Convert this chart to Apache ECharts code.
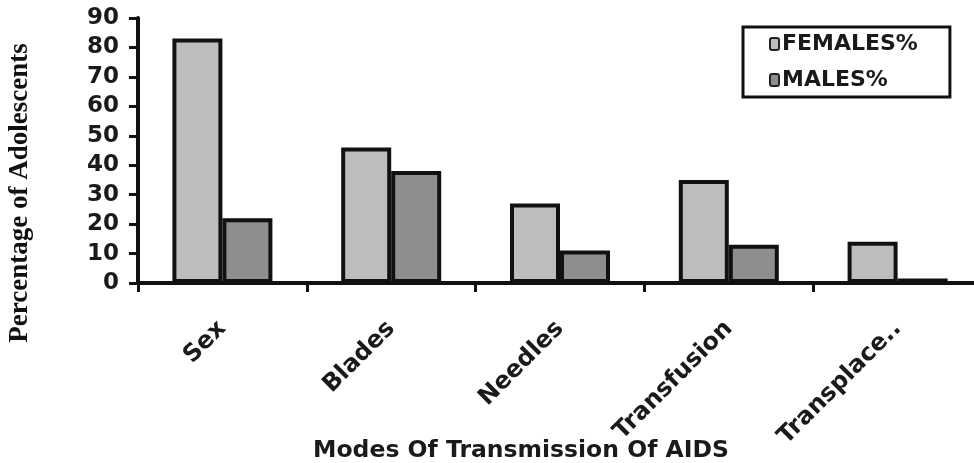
<!DOCTYPE html>
<html>
<head>
<meta charset="utf-8">
<script src="https://cdn.jsdelivr.net/npm/echarts@6/dist/echarts.min.js"></script>
<style>
  html, body { margin: 0; padding: 0; background: #ffffff; }
  #chart { width: 974px; height: 463px; }
</style>
</head>
<body>
<div id="chart"></div>
<script>
const categories = ["Sex", "Blades", "Needles", "Transfusion", "Transplace.."];
const femalesPct = [83, 46, 27, 35, 14];
const malesPct = [22, 38, 11, 13, 1.5];
const seriesNames = ["FEMALES%", "MALES%"];

const labelFont = "DejaVu Sans";

let chart = echarts.init(document.getElementById("chart"));

let options = {
  backgroundColor: "#ffffff",
  animation: false,
  title: {
    text: "Modes Of Transmission Of AIDS",
    left: 516,
    top: 434,
    textAlign: "center",
    textStyle: {
      fontFamily: labelFont,
      fontWeight: "bold",
      fontSize: 23.5,
      color: "#1a1a1a",
    },
  },
  graphic: [
    {
      type: "text",
      x: 20,
      y: 193,
      rotation: Math.PI / 2,
      style: {
        text: "Percentage of Adolescents",
        fontFamily: "Liberation Serif",
        fontWeight: "bold",
        fontSize: 27,
        fill: "#111",
        align: "center",
        verticalAlign: "middle",
      },
    },
  ],
  legend: {
    data: seriesNames,
    orient: "vertical",
    left: 743,
    top: 27,
    padding: [6, 32, 6, 26],
    itemGap: 14,
    itemWidth: 9,
    itemHeight: 12,
    icon: "roundRect",
    borderColor: "#111",
    borderWidth: 3,
    itemStyle: {
      borderWidth: 2,
      borderColor: "#222",
    },
    textStyle: {
      fontFamily: labelFont,
      fontWeight: "bold",
      fontSize: 22,
      color: "#1a1a1a",
      padding: [0, 0, 0, -2],
    },
  },
  grid: {
    left: 138,
    width: 844,
    top: 18,
    bottom: 180,
    containLabel: false,
    outerBoundsMode: "none",
  },
  xAxis: {
    type: "category",
    data: categories,
    axisLine: { lineStyle: { color: "#111", width: 4 } },
    axisTick: { show: true, length: 9, lineStyle: { color: "#111", width: 3 } },
    axisLabel: {
      rotate: 45,
      margin: 42,
      fontFamily: labelFont,
      fontWeight: "bold",
      fontSize: 24,
      color: "#1a1a1a",
      interval: 0,
    },
  },
  yAxis: {
    type: "value",
    min: 0,
    max: 90,
    interval: 10,
    splitLine: { show: false },
    axisLine: { show: true, lineStyle: { color: "#111", width: 4 } },
    axisTick: { show: true, length: 9, lineStyle: { color: "#111", width: 3 } },
    axisLabel: {
      margin: 19,
      fontFamily: labelFont,
      fontWeight: "bold",
      fontSize: 23,
      color: "#1a1a1a",
    },
  },
  series: [
    {
      name: seriesNames[0],
      type: "bar",
      data: femalesPct,
      barWidth: 50,
      barGap: "0%",
      itemStyle: {
        color: "#bdbdbd",
        borderColor: "#111",
        borderWidth: 4,
      },
    },
    {
      name: seriesNames[1],
      type: "bar",
      data: malesPct,
      barWidth: 50,
      barGap: "0%",
      itemStyle: {
        color: "#8e8e8e",
        borderColor: "#111",
        borderWidth: 4,
      },
    },
  ],
};

chart.setOption(options);
</script>
</body>
</html>
